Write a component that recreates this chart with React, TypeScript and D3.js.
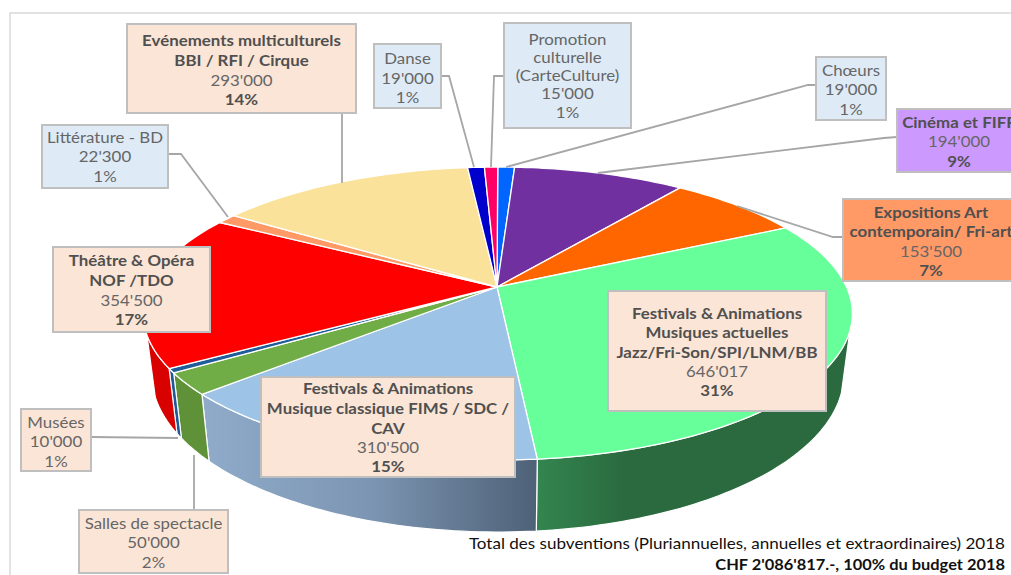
import React from "react";
import * as d3 from "d3";

// ---- data (clockwise from the top of the pie) ----
const categories = ["Chœurs", "Cinéma et FIFF", "Expositions Art contemporain/ Fri-art", "Festivals & Animations Musiques actuelles Jazz/Fri-Son/SPI/LNM/BB", "Festivals & Animations Musique classique FIMS / SDC / CAV", "Salles de spectacle", "Musées", "Théâtre & Opéra NOF /TDO", "Littérature - BD", "Evénements multiculturels BBI / RFI / Cirque", "Danse", "Promotion culturelle (CarteCulture)"];
const values = [19000, 194000, 153500, 646017, 310500, 50000, 10000, 354500, 22300, 293000, 19000, 15000];
const sliceColors = ["#0066ff", "#7030a0", "#ff6600", "#66ff99", "#9dc3e6", "#70ad47", "#1f5c99", "#ff0000", "#ff9966", "#fbe29a", "#0000cc", "#ff0066"];
const wallColors = ["#0052cc", "#5a2680", "#cc5200", "url(#wallGreen)", "url(#wallBlue)", "#5f9238", "#1f5a96", "#d90000", "#cc7a52", "#c8b47a", "#0000a3", "#cc0052"];

const labelLines: string[][] = [
  ["Chœurs", "19'000", "1%"],
  ["Cinéma et FIFF", "194'000", "9%"],
  ["Expositions Art", "contemporain/ Fri-art", "153'500", "7%"],
  ["Festivals & Animations", "Musiques actuelles", "Jazz/Fri-Son/SPI/LNM/BB", "646'017", "31%"],
  ["Festivals & Animations", "Musique classique FIMS / SDC /", "CAV", "310'500", "15%"],
  ["Salles de spectacle", "50'000", "2%"],
  ["Musées", "10'000", "1%"],
  ["Théâtre & Opéra", "NOF /TDO", "354'500", "17%"],
  ["Littérature - BD", "22'300", "1%"],
  ["Evénements multiculturels", "BBI / RFI / Cirque", "293'000", "14%"],
  ["Danse", "19'000", "1%"],
  ["Promotion", "culturelle", "(CarteCulture)", "15'000", "1%"],
];
const footerLines = ["Total des subventions (Pluriannuelles, annuelles et extraordinaires) 2018", "CHF 2'086'817.-, 100% du budget 2018"];

// ---- layout ----
const PEACH = "#fbe5d6", SKY = "#deebf7";
type Box = { x: number; y: number; w: number; h: number; fill: string; ys: number[]; bold: number[]; cx?: number; leader?: [number, number][] };
const boxes: Box[] = [
  { x: 816, y: 57, w: 70, h: 63, fill: SKY, ys: [70, 89, 109], bold: [], leader: [[816, 85], [808, 85], [506, 167]] },
  { x: 897, y: 109, w: 130, h: 63, fill: "#cc99ff", ys: [122, 141, 161], bold: [0, 2], cx: 959, leader: [[897, 137], [884, 138], [598, 173]] },
  { x: 843, y: 199, w: 190, h: 82, fill: "#ff9966", ys: [212, 231, 251, 270], bold: [0, 1, 3], cx: 931, leader: [[843, 237], [833, 237], [737, 206]] },
  { x: 608, y: 291, w: 218, h: 120, fill: PEACH, ys: [313, 332, 352, 371, 390], bold: [0, 1, 2, 4] },
  { x: 261, y: 377, w: 254, h: 100, fill: PEACH, ys: [388, 408, 428, 447, 466], bold: [0, 1, 2, 4] },
  { x: 79, y: 510, w: 149, h: 63, fill: PEACH, ys: [523, 542, 562], bold: [], leader: [[194, 510], [194, 455]] },
  { x: 21, y: 409, w: 70, h: 62, fill: PEACH, ys: [422, 441, 461], bold: [], leader: [[91, 437], [178, 438]] },
  { x: 53, y: 247, w: 157, h: 85, fill: PEACH, ys: [260, 280, 300, 319], bold: [0, 1, 3] },
  { x: 42, y: 125, w: 126, h: 63, fill: SKY, ys: [137, 156, 176], bold: [], leader: [[168, 154], [181, 154], [228, 217]] },
  { x: 127, y: 24, w: 229, h: 89, fill: PEACH, ys: [40, 60, 80, 99], bold: [0, 1, 3], leader: [[342, 113], [342, 183]] },
  { x: 374, y: 44, w: 67, h: 64, fill: SKY, ys: [58, 78, 97], bold: [], leader: [[441, 76], [449, 76], [474, 167]] },
  { x: 504, y: 23, w: 127, h: 105, fill: SKY, ys: [39, 57, 75, 93, 112], bold: [], leader: [[504, 76], [494, 76], [491, 167]] },
];

// ---- projection of the tilted disc ----
const CX = 497, CY = 287, PERSP = 0.181;
const xTop = d3.scaleLinear().domain([-1, 1]).range([CX - 348, CX + 349.5]);
const yTop = d3.scaleLinear().domain([-1, 1]).range([CY + 141.7, CY - 141.7]);
const project = (a: number): [number, number] => {
  const d = 1 + PERSP * Math.cos(a);
  return [xTop(Math.sin(a) / d), yTop(Math.cos(a) / d)];
};
const dropX = d3.scaleLinear().domain([0, 1000]).range([CX - 0.976 * CX, CX + 0.976 * (1000 - CX)]);
const dropY = d3.scaleLinear().domain([460, 395]).range([532, 462]);
const dropped = (p: [number, number]): [number, number] => [dropX(p[0]), dropY(p[1])];

const line = d3.line<[number, number]>();
const arcPoints = (a0: number, a1: number) => {
  const n = Math.max(2, Math.ceil((a1 - a0) / 0.02));
  return d3.range(n + 1).map((i) => project(a0 + ((a1 - a0) * i) / n));
};

const slices = d3.pie<number>().sort(null).startAngle(0).endAngle(2 * Math.PI)(values);
const WALL_FROM = (107 * Math.PI) / 180, WALL_TO = (251.5 * Math.PI) / 180;

const FONT = "Lato, 'Open Sans', sans-serif";
const STRETCH = 1.125;

export default function App() {
  return (
    <svg width={1011} height={575} style={{ position: "absolute", left: 0, top: 0, display: "block", background: "#fff" }} fontFamily={FONT}>
      <defs>
        <linearGradient id="wallGreen" gradientUnits="userSpaceOnUse" x1={537} x2={700} y1={0} y2={0}>
          <stop offset="0" stopColor="#338550" />
          <stop offset="0.55" stopColor="#2a6a3e" />
          <stop offset="1" stopColor="#2a6a3e" />
        </linearGradient>
        <linearGradient id="wallBlue" gradientUnits="userSpaceOnUse" x1={205} x2={537} y1={0} y2={0}>
          <stop offset="0" stopColor="#8fabc9" />
          <stop offset="0.5" stopColor="#7c95b2" />
          <stop offset="1" stopColor="#4e6177" />
        </linearGradient>
      </defs>
      <path d="M10,575V13H1011" fill="none" stroke="#d9d9d9" strokeWidth={1.5} />

      {slices.map((s, i) => {
        const a0 = Math.max(s.startAngle, WALL_FROM), a1 = Math.min(s.endAngle, WALL_TO);
        if (a1 <= a0) return null;
        const rim = arcPoints(a0, a1);
        const low = rim.map(dropped).reverse();
        return <path key={categories[i] + "w"} d={line([...rim, ...low])! + "Z"} fill={wallColors[i]} stroke="#fff" strokeWidth={1.2} strokeLinejoin="round" />;
      })}

      {slices.map((s, i) => (
        <path key={categories[i]} d={line([[CX, CY], ...arcPoints(s.startAngle, s.endAngle)])! + "Z"} fill={sliceColors[i]} stroke="#fff" strokeWidth={1.3} strokeLinejoin="round" />
      ))}

      {boxes.map((b, i) => b.leader ? (
        <path key={"l" + i} d={line(b.leader)!} fill="none" stroke="#a6a6a6" strokeWidth={1.8} />
      ) : null)}

      {boxes.map((b, i) => (
        <g key={"b" + i}>
          <rect x={b.x} y={b.y} width={b.w} height={b.h} fill={b.fill} stroke="#bfbfbf" strokeWidth={2} />
          {labelLines[i].map((t, j) => (
            <text key={j} transform={`translate(${b.cx ?? b.x + b.w / 2},${b.ys[j]}) scale(${STRETCH},1)`} textAnchor="middle" dominantBaseline="central" fontSize={15}
              fontWeight={b.bold.includes(j) ? 700 : 400} fill={b.bold.includes(j) ? "#505050" : "#666"}>{t}</text>
          ))}
        </g>
      ))}

      <text transform={`translate(1005,543) scale(1.1,1)`} textAnchor="end" dominantBaseline="central" fontSize={15.5} fill="#111">{footerLines[0]}</text>
      <text transform={`translate(1005,564) scale(1.095,1)`} textAnchor="end" dominantBaseline="central" fontSize={15} fontWeight={700} fill="#111">{footerLines[1]}</text>
    </svg>
  );
}
